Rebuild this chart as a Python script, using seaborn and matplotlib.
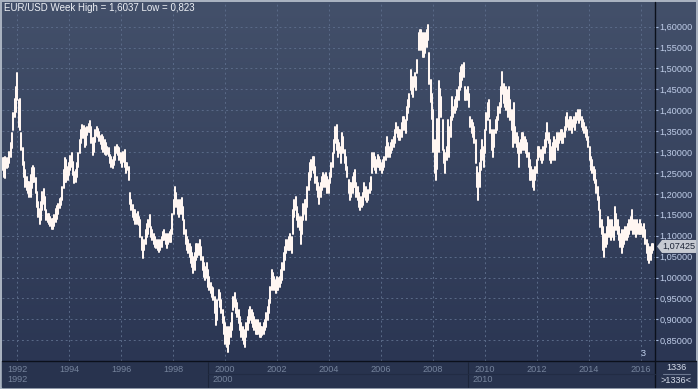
import numpy as np
import pandas as pd
import matplotlib.pyplot as plt
import seaborn as sns
from matplotlib.patches import Rectangle, Polygon
from matplotlib.lines import Line2D

# weekly EUR/USD high / low (resampled ~every 2.7 weeks)
high = [
    1.285, 1.287, 1.289, 1.285, 1.281, 1.301, 1.321, 1.345, 1.393, 1.428,
    1.456, 1.488, 1.424, 1.428, 1.345, 1.309, 1.277, 1.257, 1.241, 1.229,
    1.229, 1.245, 1.261, 1.267, 1.261, 1.237, 1.205, 1.181, 1.165, 1.181,
    1.205, 1.211, 1.193, 1.161, 1.151, 1.151, 1.145, 1.139, 1.141, 1.149,
    1.165, 1.171, 1.177, 1.187, 1.191, 1.217, 1.257, 1.285, 1.281, 1.265,
    1.273, 1.291, 1.299, 1.277, 1.253, 1.257, 1.273, 1.297, 1.329, 1.353,
    1.365, 1.363, 1.355, 1.357, 1.361, 1.367, 1.375, 1.361, 1.333, 1.333,
    1.353, 1.359, 1.355, 1.347, 1.339, 1.341, 1.337, 1.329, 1.321, 1.311,
    1.309,
    1.293, 1.289, 1.281, 1.289, 1.313, 1.317, 1.313, 1.309, 1.297, 1.289,
    1.301, 1.305, 1.273, 1.273, 1.265, 1.201, 1.185, 1.173, 1.161, 1.161,
    1.153, 1.157, 1.145, 1.137, 1.097, 1.081, 1.089, 1.113, 1.129, 1.137,
    1.149, 1.121, 1.113, 1.105, 1.097, 1.089, 1.089, 1.081, 1.089, 1.097,
    1.109, 1.113, 1.105, 1.097, 1.105, 1.109, 1.113, 1.153, 1.185, 1.217,
    1.201, 1.185, 1.177, 1.185, 1.189, 1.169, 1.137, 1.113, 1.097, 1.089,
    1.081, 1.074, 1.058, 1.050, 1.058, 1.081, 1.081, 1.081, 1.089, 1.074,
    1.050, 1.034, 1.026, 1.034, 1.018, 1.002, 0.986, 0.978, 0.974, 0.954,
    0.930, 0.946, 0.970,
    0.962, 0.946, 0.922, 0.906, 0.890, 0.882, 0.874, 0.882, 0.890, 0.914,
    0.954, 0.962, 0.946, 0.938, 0.922, 0.906, 0.890, 0.882, 0.874, 0.866,
    0.890, 0.906, 0.922, 0.930, 0.922, 0.914, 0.906, 0.898, 0.890, 0.898,
    0.890, 0.882, 0.882, 0.890, 0.898, 0.914, 0.930, 0.946, 0.978, 1.018,
    1.010, 1.002, 0.994, 1.002, 0.998, 1.002, 1.018, 1.034, 1.058, 1.074,
    1.089, 1.089, 1.097, 1.105, 1.097, 1.161, 1.185, 1.193, 1.169, 1.153,
    1.145, 1.129, 1.145, 1.177, 1.185, 1.185, 1.217, 1.249, 1.273, 1.281,
    1.289, 1.289, 1.265, 1.241, 1.225, 1.217, 1.225, 1.241, 1.249, 1.245,
    1.249, 1.241, 1.233,
    1.249, 1.273, 1.297, 1.329, 1.361, 1.365, 1.329, 1.321, 1.313, 1.345,
    1.337, 1.305, 1.289, 1.265, 1.233, 1.225, 1.225, 1.241, 1.249, 1.257,
    1.225, 1.217, 1.201, 1.193, 1.193, 1.201, 1.225, 1.217, 1.201, 1.209,
    1.225, 1.241, 1.297, 1.297, 1.289, 1.281, 1.293, 1.289, 1.281, 1.273,
    1.281, 1.289, 1.313, 1.337, 1.321, 1.313, 1.321, 1.329, 1.337, 1.353,
    1.369, 1.361, 1.353, 1.353, 1.369, 1.385, 1.385, 1.377, 1.409, 1.424,
    1.440, 1.496, 1.472, 1.480, 1.488, 1.480, 1.520, 1.584, 1.592, 1.592,
    1.584, 1.568, 1.584, 1.592, 1.604, 1.536, 1.472, 1.440, 1.400, 1.330,
    1.300, 1.380, 1.470,
    1.452, 1.432, 1.377, 1.305, 1.297, 1.313, 1.377, 1.361, 1.385, 1.432,
    1.409, 1.424, 1.432, 1.448, 1.456, 1.488, 1.504, 1.508, 1.512, 1.456,
    1.448, 1.456, 1.440, 1.385, 1.377, 1.369, 1.361, 1.329, 1.265, 1.249,
    1.273, 1.305, 1.329, 1.313, 1.353, 1.393, 1.417, 1.424, 1.377, 1.353,
    1.345, 1.353, 1.377, 1.385, 1.409, 1.417, 1.456, 1.492, 1.464, 1.448,
    1.456, 1.448, 1.456, 1.424, 1.401, 1.377, 1.417, 1.361, 1.345, 1.337,
    1.321, 1.329, 1.345, 1.345, 1.337, 1.329, 1.321, 1.297, 1.281, 1.265,
    1.257, 1.249, 1.265, 1.281, 1.313, 1.313, 1.305, 1.297, 1.313, 1.329,
    1.345, 1.369, 1.345,
    1.329, 1.313, 1.321, 1.337, 1.329, 1.345, 1.337, 1.345, 1.353, 1.353,
    1.345, 1.361, 1.385, 1.393, 1.377, 1.385, 1.385, 1.377, 1.385, 1.377,
    1.393, 1.401, 1.393, 1.401, 1.385, 1.377, 1.369, 1.361, 1.353, 1.337,
    1.313, 1.289, 1.281, 1.265, 1.257, 1.233, 1.217, 1.193, 1.161, 1.137,
    1.121, 1.105, 1.105, 1.121, 1.145, 1.137, 1.121, 1.137, 1.121, 1.169,
    1.153, 1.137, 1.121, 1.105, 1.113, 1.105, 1.113, 1.121, 1.121, 1.129,
    1.137, 1.145, 1.161, 1.137, 1.137, 1.129, 1.137, 1.129, 1.137, 1.129,
    1.121, 1.129, 1.113, 1.089, 1.081, 1.074, 1.074, 1.081, 1.081,
]
low = [
    1.257, 1.241, 1.237, 1.261, 1.265, 1.273, 1.289, 1.309, 1.353, 1.385,
    1.397, 1.424, 1.361, 1.353, 1.305, 1.269, 1.241, 1.217, 1.209, 1.201,
    1.193, 1.193, 1.213, 1.229, 1.229, 1.201, 1.169, 1.145, 1.129, 1.137,
    1.161, 1.177, 1.161, 1.137, 1.133, 1.127, 1.123, 1.117, 1.115, 1.123,
    1.133, 1.141, 1.153, 1.167, 1.173, 1.185, 1.213, 1.229, 1.229, 1.233,
    1.245, 1.257, 1.264, 1.245, 1.227, 1.229, 1.241, 1.265, 1.297, 1.321,
    1.333, 1.333, 1.313, 1.317, 1.341, 1.349, 1.349, 1.321, 1.293, 1.301,
    1.325, 1.339, 1.335, 1.327, 1.319, 1.307, 1.301, 1.295, 1.293, 1.295,
    1.290,
    1.273, 1.265, 1.261, 1.269, 1.281, 1.297, 1.293, 1.281, 1.273, 1.265,
    1.277, 1.265, 1.249, 1.257, 1.233, 1.177, 1.161, 1.145, 1.137, 1.129,
    1.129, 1.133, 1.125, 1.097, 1.066, 1.046, 1.066, 1.081, 1.097, 1.105,
    1.121, 1.097, 1.089, 1.081, 1.074, 1.070, 1.066, 1.062, 1.066, 1.074,
    1.089, 1.089, 1.081, 1.070, 1.081, 1.085, 1.085, 1.105, 1.153, 1.177,
    1.169, 1.153, 1.145, 1.153, 1.153, 1.137, 1.105, 1.081, 1.066, 1.058,
    1.050, 1.034, 1.026, 1.010, 1.018, 1.042, 1.050, 1.054, 1.058, 1.042,
    1.018, 1.002, 0.994, 0.998, 0.978, 0.970, 0.962, 0.954, 0.946, 0.914,
    0.886, 0.898, 0.946,
    0.930, 0.914, 0.890, 0.866, 0.842, 0.834, 0.823, 0.842, 0.858, 0.874,
    0.922, 0.930, 0.914, 0.906, 0.890, 0.874, 0.858, 0.850, 0.842, 0.834,
    0.858, 0.874, 0.890, 0.898, 0.890, 0.882, 0.874, 0.866, 0.866, 0.866,
    0.858, 0.858, 0.862, 0.866, 0.874, 0.882, 0.898, 0.914, 0.938, 0.970,
    0.978, 0.970, 0.962, 0.970, 0.970, 0.978, 0.986, 0.994, 1.018, 1.042,
    1.058, 1.066, 1.066, 1.066, 1.058, 1.105, 1.145, 1.161, 1.137, 1.121,
    1.113, 1.081, 1.105, 1.137, 1.153, 1.137, 1.169, 1.209, 1.233, 1.241,
    1.257, 1.249, 1.225, 1.209, 1.193, 1.177, 1.193, 1.209, 1.217, 1.217,
    1.225, 1.201, 1.201,
    1.225, 1.241, 1.265, 1.297, 1.321, 1.305, 1.289, 1.297, 1.273, 1.305,
    1.297, 1.273, 1.257, 1.241, 1.201, 1.185, 1.193, 1.201, 1.217, 1.217,
    1.193, 1.185, 1.169, 1.161, 1.169, 1.173, 1.193, 1.185, 1.181, 1.185,
    1.201, 1.209, 1.249, 1.265, 1.257, 1.249, 1.265, 1.265, 1.257, 1.249,
    1.257, 1.265, 1.281, 1.305, 1.289, 1.289, 1.297, 1.305, 1.313, 1.321,
    1.345, 1.337, 1.329, 1.329, 1.337, 1.361, 1.353, 1.345, 1.377, 1.393,
    1.409, 1.448, 1.440, 1.432, 1.456, 1.448, 1.488, 1.544, 1.560, 1.544,
    1.528, 1.528, 1.536, 1.552, 1.568, 1.464, 1.420, 1.380, 1.300, 1.250,
    1.233, 1.260, 1.300,
    1.400, 1.385, 1.305, 1.273, 1.249, 1.281, 1.313, 1.289, 1.337, 1.377,
    1.385, 1.393, 1.401, 1.409, 1.424, 1.448, 1.456, 1.472, 1.480, 1.424,
    1.424, 1.424, 1.409, 1.361, 1.345, 1.337, 1.321, 1.273, 1.217, 1.185,
    1.217, 1.257, 1.281, 1.265, 1.297, 1.353, 1.377, 1.385, 1.345, 1.305,
    1.289, 1.313, 1.345, 1.353, 1.377, 1.393, 1.409, 1.440, 1.417, 1.409,
    1.401, 1.385, 1.409, 1.377, 1.353, 1.313, 1.345, 1.321, 1.313, 1.297,
    1.265, 1.297, 1.313, 1.305, 1.305, 1.297, 1.289, 1.265, 1.233, 1.233,
    1.217, 1.209, 1.233, 1.249, 1.281, 1.289, 1.281, 1.273, 1.281, 1.297,
    1.313, 1.329, 1.321,
    1.281, 1.273, 1.281, 1.297, 1.281, 1.313, 1.305, 1.321, 1.329, 1.321,
    1.321, 1.337, 1.353, 1.361, 1.353, 1.361, 1.353, 1.345, 1.361, 1.353,
    1.369, 1.377, 1.369, 1.377, 1.361, 1.353, 1.345, 1.337, 1.329, 1.313,
    1.281, 1.257, 1.249, 1.233, 1.225, 1.201, 1.185, 1.161, 1.121, 1.105,
    1.066, 1.050, 1.074, 1.081, 1.097, 1.097, 1.089, 1.097, 1.089, 1.121,
    1.113, 1.105, 1.089, 1.074, 1.058, 1.074, 1.081, 1.089, 1.089, 1.097,
    1.105, 1.113, 1.121, 1.105, 1.105, 1.097, 1.105, 1.105, 1.105, 1.105,
    1.097, 1.105, 1.081, 1.058, 1.042, 1.034, 1.042, 1.058, 1.066,
]

first_year, last_year = 1991.449, 2016.473
year_ticks = list(range(1992, 2017, 2))
decade_labels = ['1992', '2000', '2010']
price_ticks = [0.85, 0.90, 0.95, 1.00, 1.05, 1.10, 1.15, 1.20, 1.25, 1.30,
               1.35, 1.40, 1.45, 1.50, 1.55, 1.60]
last_price = 1.07425
week_high, week_low = '1,6037', '0,823'
bar_count = 1336

sns.set_style('dark')
plt.rcParams['font.family'] = ['Liberation Sans', 'DejaVu Sans']

years = np.linspace(first_year, last_year, len(high))
df = pd.DataFrame({
    'year': np.repeat(years, 2),
    'price': np.column_stack([low, high]).ravel(),
    'bar': np.repeat(np.arange(len(high)), 2),
})

W, H = 698, 389
fig = plt.figure(figsize=(W / 100, H / 100), dpi=100, facecolor='#a9b2c0')


def fig_rect(x0, y0, x1, y1):
    # pixel box (top-left origin) -> figure fraction [l, b, w, h]
    return [x0 / W, 1 - y1 / H, (x1 - x0) / W, (y1 - y0) / H]


# gradient background behind plot + right scale
bg = fig.add_axes(fig_rect(2, 2, 696, 361))
grad = np.linspace(0, 1, 256).reshape(-1, 1)
cmap = sns.blend_palette(['#43506a', '#2b3653'], as_cmap=True)
bg.imshow(grad, aspect='auto', cmap=cmap, extent=[0, 1, 0, 1])
bg.set_axis_off()

# bottom time axis panel (behind the axes so tick labels stay visible)
fig.patches.append(Rectangle(fig_rect(2, 361, 696, 387)[:2], 694 / W, 26 / H,
                             transform=fig.transFigure, color='#28334e', zorder=-1))

ax = fig.add_axes(fig_rect(2, 2, 655, 361))
ax.set_facecolor('none')
sns.lineplot(data=df, x='year', y='price', units='bar', estimator=None,
             color='#fff6f2', linewidth=1.45, legend=False, ax=ax)

ax.set_xlim(1991.423, 2016.538)
ax.set_ylim(0.8003, 1.659)
for s in ax.spines.values():
    s.set_visible(False)
ax.set_xlabel('')
ax.set_ylabel('')

ax.set_yticks(price_ticks)
ax.set_yticklabels([f'{p:.5f}'.replace('.', ',') for p in price_ticks])
ax.yaxis.tick_right()
ax.tick_params(axis='y', length=2, width=0.8, color='#a9bde0', labelcolor='#bfcde8',
               labelsize=6.6, pad=1)
ax.set_xticks(year_ticks)
ax.set_xticklabels([str(y) for y in year_ticks])
ax.tick_params(axis='x', length=0, labelcolor='#75839c', labelsize=6.6, pad=2.6)
ax.grid(True, color='#5a6a88', linewidth=0.7, linestyle=(0, (2, 3)))

# separators
fig.lines.append(Line2D([655 / W, 655 / W], [1 - 2 / H, 1 - 387 / H],
                        transform=fig.transFigure, color='#0b101b', linewidth=1.0))
fig.lines.append(Line2D([2 / W, 696 / W], [1 - 361 / H, 1 - 361 / H],
                        transform=fig.transFigure, color='#0b101b', linewidth=1.0))
for sx in [208, 468]:
    fig.lines.append(Line2D([sx / W, sx / W], [1 - 362 / H, 1 - 387 / H],
                            transform=fig.transFigure, color='#1c253a', linewidth=0.8))
fig.lines.append(Line2D([208 / W, 655 / W], [1 - 373.5 / H, 1 - 373.5 / H],
                        transform=fig.transFigure, color='#222c44', linewidth=0.8))

# second row of the time axis
for lbl, lx in zip(decade_labels, [7, 212, 472]):
    fig.text(lx / W, 1 - 380 / H, lbl, color='#75839c', fontsize=6.6,
             ha='left', va='center')

# bar count box
fig.text(676 / W, 1 - 367.5 / H, str(bar_count), color='#d5dcea', fontsize=6.6,
         ha='center', va='center')
fig.lines.append(Line2D([663 / W, 690 / W], [1 - 374 / H, 1 - 374 / H],
                        transform=fig.transFigure, color='#6c7890', linewidth=0.8))
fig.text(676 / W, 1 - 380.5 / H, f'>{bar_count}<', color='#d5dcea', fontsize=6.6,
         ha='center', va='center')

# title
fig.text(4 / W, 1 - 8 / H, f'EUR/USD Week High = {week_high} Low = {week_low}',
         color='#eef1f6', fontsize=7, ha='left', va='center')

# last price tag
fig.canvas.draw()
py = ax.transData.transform((2000, last_price))[1]
ty = py / fig.dpi / (H / 100)
hh = 6.5 / H
tag = Polygon([(657 / W, ty), (662 / W, ty + hh), (696 / W, ty + hh),
               (696 / W, ty - hh), (662 / W, ty - hh)], closed=True,
              transform=fig.transFigure, facecolor='#c6cad2', edgecolor='none', zorder=5)
fig.patches.append(tag)
fig.text(679 / W, ty, f'{last_price:.5f}'.replace('.', ','), color='#1c2436',
         fontsize=6.6, ha='center', va='center', zorder=6)

fig.text(643 / W, 1 - 354 / H, '3', color='#c4d4f0', fontsize=6.6,
         ha='center', va='center')

fig.savefig('out.png', dpi=100, facecolor=fig.get_facecolor())
